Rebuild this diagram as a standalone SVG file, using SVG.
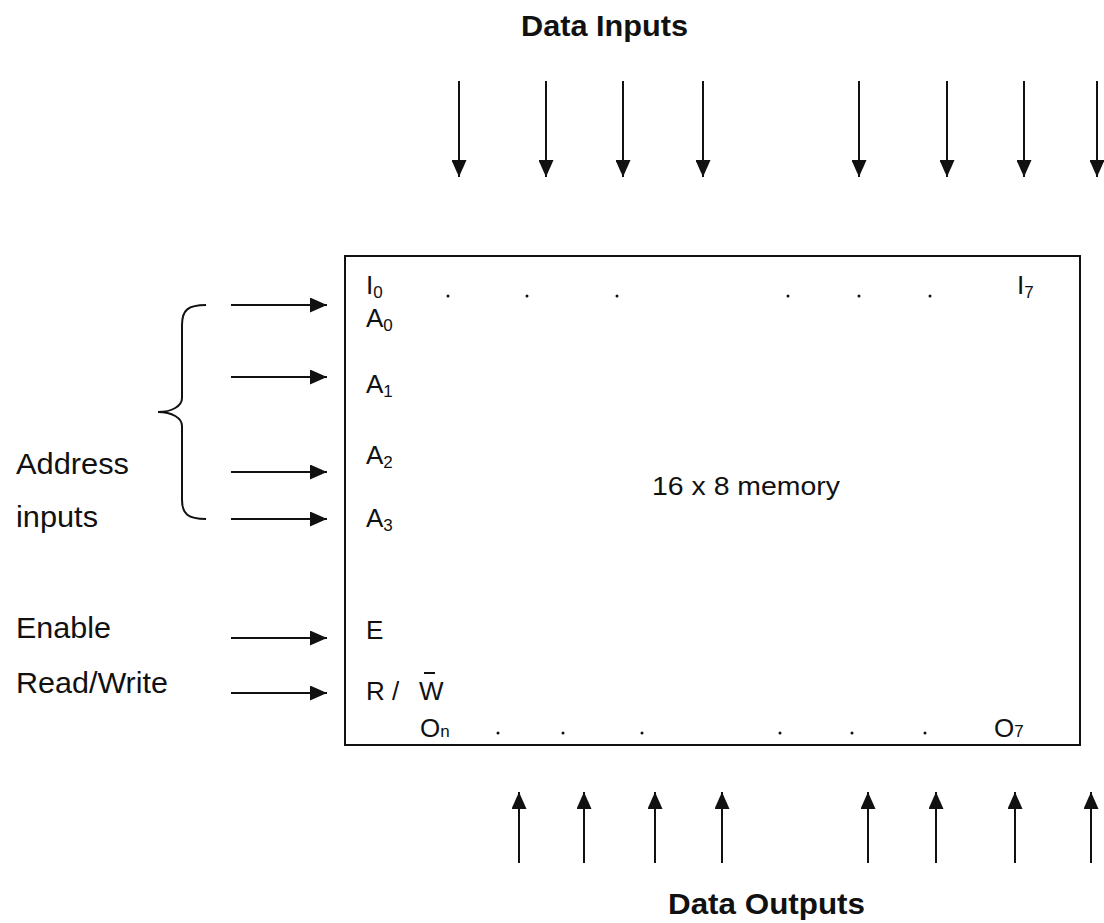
<svg xmlns="http://www.w3.org/2000/svg" width="1104" height="923" viewBox="0 0 1104 923">
<defs>
<marker id="ah" viewBox="0 0 10 10" refX="10" refY="5" markerWidth="17" markerHeight="15" markerUnits="userSpaceOnUse" orient="auto" preserveAspectRatio="none">
<path d="M0,0 L10,5 L0,10 z" fill="#111"/>
</marker>
</defs>
<style>
text{font-family:"Liberation Sans",Arial,sans-serif;fill:#111}
.t{font-size:26px}
.m{font-size:25px}
.lab{font-size:29px}
.h{font-size:30px;font-weight:bold}
.s{font-size:17px}
.l{stroke:#111;stroke-width:2;fill:none}
.a{stroke:#111;stroke-width:2;fill:none;marker-end:url(#ah)}
</style>
<rect width="1104" height="923" fill="#fff"/>
<g id="title-in"><text class="h" x="521" y="36" textLength="167" lengthAdjust="spacingAndGlyphs">Data Inputs</text></g>
<g id="title-out"><text class="h" x="668" y="914" textLength="197" lengthAdjust="spacingAndGlyphs">Data Outputs</text></g>
<g id="memory">
<rect x="345" y="256" width="735" height="489" class="l"/>
<text class="m" x="652" y="495" textLength="188" lengthAdjust="spacingAndGlyphs">16 x 8 memory</text>
<text class="t" x="366" y="294">I<tspan class="s" dy="4">0</tspan></text>
<text class="t" x="1017" y="294">I<tspan class="s" dy="4">7</tspan></text>
<text class="t" x="366" y="327">A<tspan class="s" dy="4">0</tspan></text>
<text class="t" x="366" y="393">A<tspan class="s" dy="4">1</tspan></text>
<text class="t" x="366" y="464">A<tspan class="s" dy="4">2</tspan></text>
<text class="t" x="366" y="527">A<tspan class="s" dy="4">3</tspan></text>
<text class="t" x="366" y="639">E</text>
<text class="t" x="366" y="700">R</text>
<text class="t" x="392" y="700">/</text>
<text class="t" x="419" y="700">W</text>
<line x1="424" y1="673" x2="435" y2="673" stroke="#111" stroke-width="2"/>
<text class="t" x="420" y="737">O<tspan class="s">n</tspan></text>
<text class="t" x="994" y="737">O<tspan class="s">7</tspan></text>
<g fill="#111">
<circle cx="448" cy="296" r="1.5"/><circle cx="527" cy="296" r="1.5"/><circle cx="617" cy="296" r="1.5"/>
<circle cx="788" cy="296" r="1.5"/><circle cx="859" cy="296" r="1.5"/><circle cx="930" cy="296" r="1.5"/>
<circle cx="498" cy="733" r="1.5"/><circle cx="563" cy="733" r="1.5"/><circle cx="642" cy="733" r="1.5"/>
<circle cx="780" cy="733" r="1.5"/><circle cx="852" cy="733" r="1.5"/><circle cx="925" cy="733" r="1.5"/>
</g>
</g>
<g id="labels-left">
<text class="lab" x="16" y="474" textLength="113" lengthAdjust="spacingAndGlyphs">Address</text>
<text class="lab" x="16" y="527" textLength="82" lengthAdjust="spacingAndGlyphs">inputs</text>
<text class="lab" x="16" y="638" textLength="95" lengthAdjust="spacingAndGlyphs">Enable</text>
<text class="lab" x="16" y="693" textLength="152" lengthAdjust="spacingAndGlyphs">Read/Write</text>
<path class="l" d="M206,305 C188,305 182,310 182,325 L182,398 C182,406 172,412 158,412 C172,412 182,418 182,426 L182,500 C182,514 188,519 206,519"/>
</g>
<g id="connectors">
<line class="a" x1="231" y1="305" x2="327" y2="305"/>
<line class="a" x1="231" y1="377" x2="327" y2="377"/>
<line class="a" x1="231" y1="472" x2="327" y2="472"/>
<line class="a" x1="231" y1="519" x2="327" y2="519"/>
<line class="a" x1="231" y1="638" x2="327" y2="638"/>
<line class="a" x1="231" y1="693" x2="327" y2="693"/>
<line class="a" x1="459" y1="81" x2="459" y2="177"/>
<line class="a" x1="546" y1="81" x2="546" y2="177"/>
<line class="a" x1="623" y1="81" x2="623" y2="177"/>
<line class="a" x1="703" y1="81" x2="703" y2="177"/>
<line class="a" x1="859" y1="81" x2="859" y2="177"/>
<line class="a" x1="947" y1="81" x2="947" y2="177"/>
<line class="a" x1="1024" y1="81" x2="1024" y2="177"/>
<line class="a" x1="1097" y1="81" x2="1097" y2="177"/>
<line class="a" x1="519" y1="863" x2="519" y2="792"/>
<line class="a" x1="584" y1="863" x2="584" y2="792"/>
<line class="a" x1="655" y1="863" x2="655" y2="792"/>
<line class="a" x1="722" y1="863" x2="722" y2="792"/>
<line class="a" x1="868" y1="863" x2="868" y2="792"/>
<line class="a" x1="936" y1="863" x2="936" y2="792"/>
<line class="a" x1="1015" y1="863" x2="1015" y2="792"/>
<line class="a" x1="1091" y1="863" x2="1091" y2="792"/>
</g>
</svg>
